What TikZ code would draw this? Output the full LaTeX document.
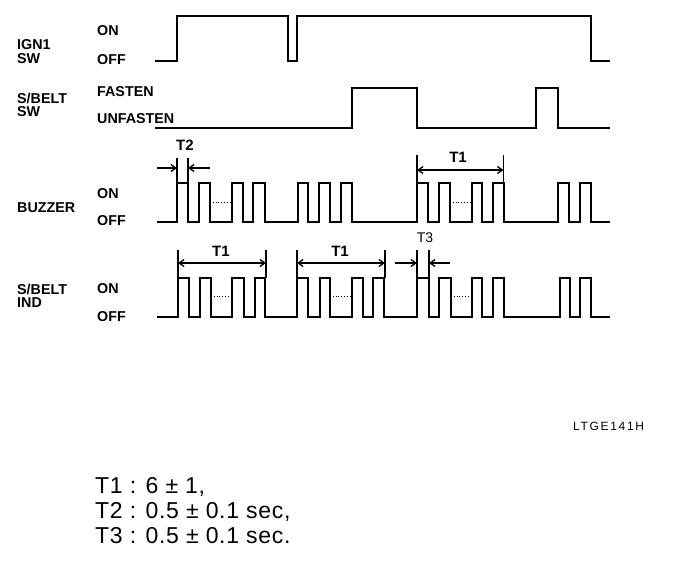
\documentclass[tikz,border=0pt]{standalone}
\usepackage{fontspec}
\setmainfont{Liberation Sans}
\newfontfamily\legendfont[LetterSpace=3]{Liberation Sans}
\newfontfamily\codefont[LetterSpace=14]{Liberation Sans}
\usetikzlibrary{arrows.meta}
\begin{document}
\begin{tikzpicture}[x=1pt,y=-1pt,
  wave/.style={line width=1.8pt,line join=miter},
  tick/.style={line width=1.1pt},
  dim/.style={line width=1.3pt,-{Straight Barb[length=5pt,width=7pt]}},
  dimboth/.style={line width=1.3pt,{Straight Barb[length=5pt,width=7pt]}-{Straight Barb[length=5pt,width=7pt]}},
  dots/.style={line width=0.8pt,dotted},
  lab/.style={font=\fontsize{14.3}{15}\selectfont\bfseries,anchor=west,inner sep=0pt},
  tlab/.style={font=\fontsize{15}{16}\selectfont\bfseries,inner sep=0pt},
  legend/.style={font=\fontsize{23}{25}\selectfont\legendfont,anchor=west,inner sep=0pt}]
\useasboundingbox[fill=white] (0,0) rectangle (688,576);

% ---- labels
\node[lab] (ign) at (17,45) {IGN1};
\node[lab] (ignsw) at (17,59) {SW};
\node[lab] (ignon) at (97,31) {ON};
\node[lab] (ignoff) at (97,60) {OFF};
\node[lab] (sb) at (17,98) {S/BELT};
\node[lab] (sbsw) at (17,112) {SW};
\node[lab] (fas) at (97,92) {FASTEN};
\node[lab] (unf) at (97,119) {UNFASTEN};
\node[lab] (buz) at (17,208) {BUZZER};
\node[lab] (buzon) at (97,194) {ON};
\node[lab] (buzoff) at (97,221) {OFF};
\node[lab] (ind1) at (17,289) {S/BELT};
\node[lab] (ind2) at (17,303) {IND};
\node[lab] (indon) at (97,289) {ON};
\node[lab] (indoff) at (97,317) {OFF};

% ---- IGN1 SW
\draw[wave] (155,61) -- (177,61) -- (177,16) -- (288,16) -- (288,61) -- (297,61) -- (297,16) -- (591,16) -- (591,61) -- (610,61);

% ---- S/BELT SW
\draw[wave] (155,128) -- (352,128) -- (352,88) -- (417,88) -- (417,128) -- (536,128) -- (536,88) -- (558,88) -- (558,128) -- (610,128);

% ---- BUZZER
\draw[wave] (157,222) foreach \a/\b in {177/188,199/210,232/243,253/265,298/308,319/330,341/352,417/428,439/450,472/482,493/504,558/569,580/591} { -- (\a,222) -- (\a,183) -- (\b,183) -- (\b,222) } -- (610,222);
\draw[dots] (210,202) -- (231,202);
\draw[dots] (450,202) -- (471,202);

% ---- S/BELT IND
\draw[wave] (157,317) foreach \a/\b in {178/189,200/211,232/244,255/265,297/308,320/330,352/363,373/384,417/429,439/451,472/482,493/504,560/570,580/591} { -- (\a,317) -- (\a,278) -- (\b,278) -- (\b,317) } -- (610,317);
\draw[dots] (211,296) -- (232,296);
\draw[dots] (330,296) -- (352,296);
\draw[dots] (451,296) -- (472,296);

% ---- T2
\coordinate (t2a) at (177,158); \coordinate (t2ab) at (177,183);
\coordinate (t2b) at (188,158); \coordinate (t2bb) at (188,183);
\draw[tick] (t2a) -- (t2ab);
\draw[tick] (t2b) -- (t2bb);
\coordinate (t2l) at (157,168); \coordinate (t2li) at (177,168);
\coordinate (t2r) at (210,168); \coordinate (t2ri) at (188,168);
\draw[dim] (t2l) -- (t2li);
\draw[dim] (t2r) -- (t2ri);
\node[tlab] (t2lab) at (185,145) {T2};

% ---- T1 buzzer
\coordinate (b1a) at (417,155); \coordinate (b1ab) at (417,183);
\coordinate (b1b) at (503.5,155); \coordinate (b1bb) at (503.5,183);
\draw[tick] (b1a) -- (b1ab);
\draw[tick] (b1b) -- (b1bb);
\coordinate (b1l) at (417,170); \coordinate (b1r) at (503.5,170);
\draw[dimboth] (b1l) -- (b1r);
\node[tlab] (b1lab) at (458,157) {T1};

% ---- T1 ind (first)
\coordinate (i1a) at (178,250); \coordinate (i1ab) at (178,278);
\coordinate (i1b) at (266,250); \coordinate (i1bb) at (266,278);
\draw[tick] (i1a) -- (i1ab);
\draw[tick] (i1b) -- (i1bb);
\coordinate (i1l) at (178,263); \coordinate (i1r) at (266,263);
\draw[dimboth] (i1l) -- (i1r);
\node[tlab] (i1lab) at (221,251) {T1};

% ---- T1 ind (second)
\coordinate (i2a) at (297,250); \coordinate (i2ab) at (297,278);
\coordinate (i2b) at (385,250); \coordinate (i2bb) at (385,278);
\draw[tick] (i2a) -- (i2ab);
\draw[tick] (i2b) -- (i2bb);
\coordinate (i2l) at (297,263); \coordinate (i2r) at (385,263);
\draw[dimboth] (i2l) -- (i2r);
\node[tlab] (i2lab) at (340,251) {T1};

% ---- T3
\coordinate (t3a) at (417,250); \coordinate (t3ab) at (417,278);
\coordinate (t3b) at (429,250); \coordinate (t3bb) at (429,278);
\draw[tick] (t3a) -- (t3ab);
\draw[tick] (t3b) -- (t3bb);
\coordinate (t3l) at (395,263); \coordinate (t3li) at (417,263);
\coordinate (t3r) at (450,263); \coordinate (t3ri) at (429,263);
\draw[dim] (t3l) -- (t3li);
\draw[dim] (t3r) -- (t3ri);
\node[font=\fontsize{14}{15}\selectfont,inner sep=0pt] (t3lab) at (425,238) {T3};

% ---- code
\node[font=\fontsize{12}{13}\selectfont\codefont,anchor=west,inner sep=0pt] (code) at (573,426) {LTGE141H};

% ---- legend
\node[legend] (l1) at (95,487) {T1 : 6 ± 1,};
\node[legend] (l2) at (95,512) {T2 : 0.5 ± 0.1 sec,};
\node[legend] (l3) at (95,536) {T3 : 0.5 ± 0.1 sec.};
\end{tikzpicture}
\end{document}
